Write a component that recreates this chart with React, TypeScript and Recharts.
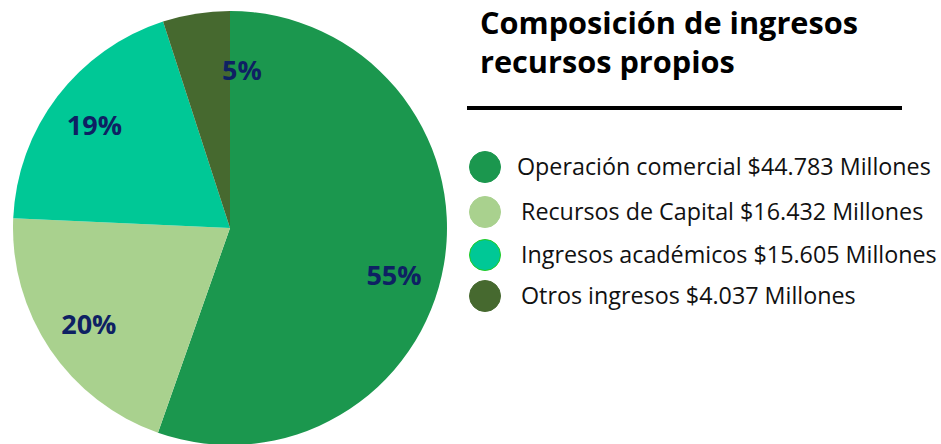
import React from "react";
import { PieChart, Pie, Cell } from "recharts";

const categories = [
  "Operación comercial",
  "Recursos de Capital",
  "Ingresos académicos",
  "Otros ingresos",
];
const amountsMillions = [44783, 16432, 15605, 4037];
const amountLabels = ["$44.783", "$16.432", "$15.605", "$4.037"];
const colors = ["#1B974E", "#A9D18E", "#00C896", "#46692F"];
const legendStrokes = ["#1B974E", "#A9D18E", "#22CC22", "#46692F"];
const titleLines = ["Composición de ingresos", "recursos propios"];

const data = categories.map((name, i) => ({
  name,
  value: amountsMillions[i],
}));

const FONT = "'Open Sans', 'Noto Sans', sans-serif";
const RAD = Math.PI / 180;

const renderLabel = (props: any) => {
  const { cx, cy, midAngle, outerRadius, percent, endAngle } = props;
  const pct = Math.round(percent * 100);
  let x: number;
  let y: number;
  let anchor: "middle" | "start" = "middle";
  if (percent < 0.1) {
    // small slice: label placed next to its closing edge (top of the pie)
    const r = outerRadius * 0.73;
    x = cx + r * Math.cos(-endAngle * RAD) - 8;
    y = cy + r * Math.sin(-endAngle * RAD);
    anchor = "start";
  } else {
    const r = outerRadius * 0.785;
    const ang = percent > 0.5 ? midAngle - 6 : midAngle;
    x = cx + r * Math.cos(-ang * RAD);
    y = cy + r * Math.sin(-ang * RAD);
  }
  return (
    <text
      x={x}
      y={y}
      textAnchor={anchor}
      dominantBaseline="central"
      fill="#0E2163"
      fontFamily={FONT}
      fontWeight={700}
      fontSize={27}
    >
      {pct}%
    </text>
  );
};

const rowCenters = [167, 212, 255, 296];

const Panel = () => (
  <div
    style={{
      position: "absolute",
      left: 0,
      top: 0,
      width: 941,
      height: 444,
      fontFamily: FONT,
      pointerEvents: "none",
    }}
  >
    {titleLines.map((t, i) => (
      <div
        key={t}
        style={{
          position: "absolute",
          left: 480,
          top: 2 + i * 39,
          fontWeight: 700,
          fontSize: 30.7,
          lineHeight: "40px",
          color: "#000",
          whiteSpace: "nowrap",
        }}
      >
        {t}
      </div>
    ))}
    <div
      style={{
        position: "absolute",
        left: 467,
        top: 106,
        width: 435,
        height: 4,
        background: "#000",
      }}
    />
    {categories.map((c, i) => (
      <React.Fragment key={c}>
        <div
          style={{
            position: "absolute",
            left: 469,
            top: rowCenters[i] - 16,
            width: 32,
            height: 32,
            borderRadius: "50%",
            background: colors[i],
            border: `1.5px solid ${legendStrokes[i]}`,
            boxSizing: "border-box",
          }}
        />
        <div
          style={{
            position: "absolute",
            left: i === 0 ? 517 : 521,
            top: rowCenters[i] - 18,
            height: 34,
            lineHeight: "34px",
            fontSize: 23.3,
            color: "#111",
            whiteSpace: "nowrap",
          }}
        >
          {c} {amountLabels[i]} Millones
        </div>
      </React.Fragment>
    ))}
  </div>
);

export default function App() {
  return (
    <div
      style={{
        position: "absolute",
        left: 0,
        top: 0,
        width: 941,
        height: 444,
        background: "#fff",
        overflow: "hidden",
      }}
    >
      <PieChart width={941} height={444} margin={{ top: 0, right: 0, bottom: 0, left: 0 }}>
        <Pie
          data={data}
          dataKey="value"
          nameKey="name"
          cx={230}
          cy={228}
          outerRadius={217}
          startAngle={90}
          endAngle={-270}
          stroke="none"
          label={renderLabel}
          labelLine={false}
          isAnimationActive={false}
        >
          {data.map((d, i) => (
            <Cell key={d.name} fill={colors[i]} />
          ))}
        </Pie>
      </PieChart>
      <Panel />
    </div>
  );
}
